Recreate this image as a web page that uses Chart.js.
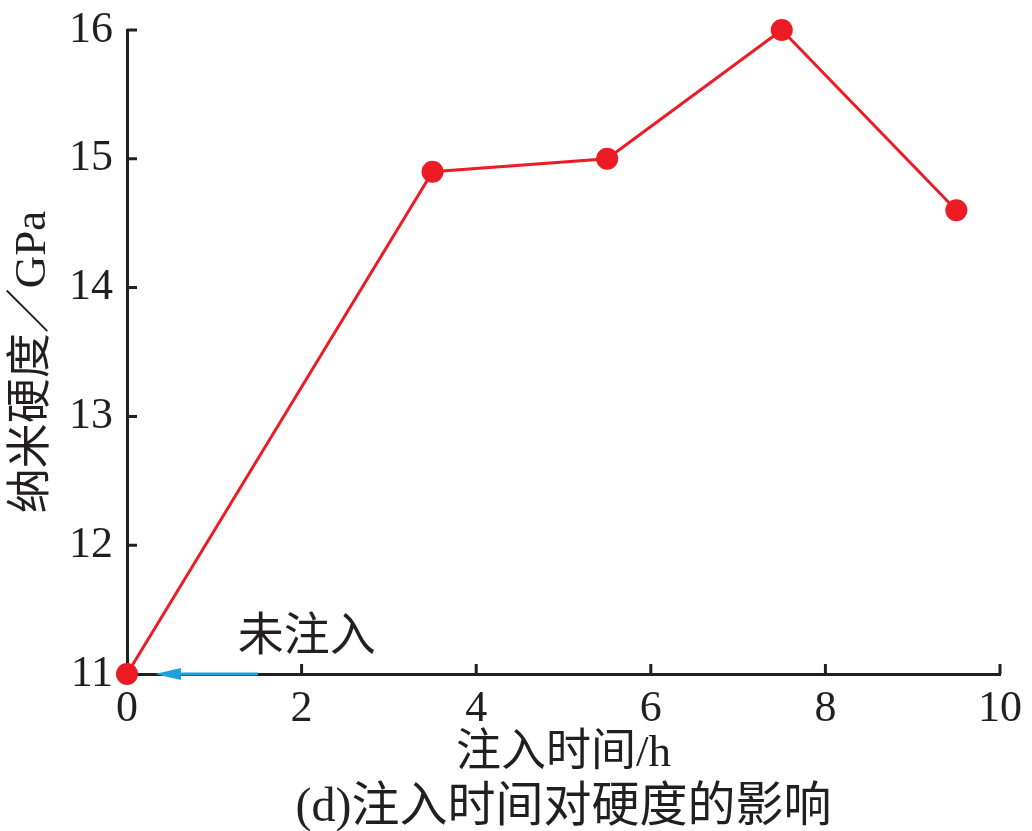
<!DOCTYPE html>
<html>
<head>
<meta charset="utf-8">
<script src="https://cdn.jsdelivr.net/npm/chart.js@4"></script>
<style>
  html, body { margin: 0; padding: 0; background: #fff; }
  #wrap { width: 1032px; height: 831px; }
</style>
</head>
<body>
<div id="wrap"><canvas id="hardnessChart" width="1032" height="831"></canvas></div>
<script>
// 注入时间 (h) 与 纳米硬度 (GPa)
const injectTime = [0, 3.5, 5.5, 7.5, 9.5];
const hardness = [11.0, 14.9, 15.0, 16.0, 14.6];
const xTicks = [0, 2, 4, 6, 8, 10];
const yTicks = [11, 12, 13, 14, 15, 16];

// 标注：未注入 (箭头指向 x=0 的点)
const noteText = "未注入";
const noteAt = [2.06, 11.28];
const arrowFrom = [1.5, 11];
const arrowTo = [0.32, 11];

const xTitle = "注入时间/h";
const yTitle = "纳米硬度／GPa";
const caption = "(d)注入时间对硬度的影响";

const FONT = '"Liberation Serif", "Noto Sans CJK SC", serif';

/* ===============================
   刻度(向内)、标注和标题
================================ */
const extrasPlugin = {
  id: "extras",
  afterDraw(chart) {
    const ctx = chart.ctx;
    const xs = chart.scales.x, ys = chart.scales.y;
    const area = chart.chartArea;
    ctx.save();

    // 向内刻度
    ctx.strokeStyle = "#231f20";
    ctx.lineWidth = 3;
    ctx.beginPath();
    xTicks.forEach(v => {
      if (v === 0) return;
      const px = xs.getPixelForValue(v);
      ctx.moveTo(px, area.bottom);
      ctx.lineTo(px, area.bottom - 10);
    });
    yTicks.forEach(v => {
      if (v === 11) return;
      const py = ys.getPixelForValue(v);
      ctx.moveTo(area.left, py);
      ctx.lineTo(area.left + 10, py);
    });
    ctx.stroke();

    // 箭头
    const ax1 = xs.getPixelForValue(arrowFrom[0]), ay1 = ys.getPixelForValue(arrowFrom[1]);
    const ax2 = xs.getPixelForValue(arrowTo[0]), ay2 = ys.getPixelForValue(arrowTo[1]);
    ctx.strokeStyle = "#1ea0dc";
    ctx.fillStyle = "#1ea0dc";
    ctx.lineWidth = 3;
    ctx.beginPath();
    ctx.moveTo(ax1, ay1);
    ctx.lineTo(ax2 + 20, ay2);
    ctx.stroke();
    ctx.beginPath();
    ctx.moveTo(ax2, ay2);
    ctx.lineTo(ax2 + 26, ay2 - 6);
    ctx.lineTo(ax2 + 26, ay2 + 6);
    ctx.closePath();
    ctx.fill();

    // 文字
    ctx.fillStyle = "#231f20";
    ctx.textAlign = "center";
    ctx.textBaseline = "middle";
    ctx.font = "46px " + FONT;
    ctx.fillText(noteText, xs.getPixelForValue(noteAt[0]), ys.getPixelForValue(noteAt[1]));

    const cx = (area.left + area.right) / 2;
    ctx.font = "45px " + FONT;
    ctx.fillText(xTitle, cx, 754);
    ctx.font = "48px " + FONT;
    ctx.fillText(caption, cx, 808);

    ctx.translate(33, 362);
    ctx.rotate(-Math.PI / 2);
    ctx.font = "45px " + FONT;
    ctx.fillText(yTitle, 0, 0);
    ctx.restore();
  }
};

new Chart(document.getElementById("hardnessChart"), {
  type: "line",
  data: {
    datasets: [{
      data: injectTime.map((t, i) => ({ x: t, y: hardness[i] })),
      borderColor: "#ed1c24",
      backgroundColor: "#ed1c24",
      borderWidth: 3,
      pointRadius: 11,
      pointHoverRadius: 11,
      pointBorderWidth: 0,
      tension: 0,
      clip: false
    }]
  },
  options: {
    responsive: false,
    animation: false,
    devicePixelRatio: 1,
    layout: { autoPadding: false, padding: { left: 0, right: 32, top: 30, bottom: 0 } },
    plugins: {
      legend: { display: false },
      tooltip: { enabled: false }
    },
    scales: {
      x: {
        type: "linear",
        min: 0, max: 10,
        afterFit: s => { s.height = 157; s.paddingLeft = 0; s.paddingRight = 0; },
        afterBuildTicks: s => { s.ticks = xTicks.map(v => ({ value: v })); },
        grid: { display: false, drawTicks: false },
        border: { display: true, color: "#231f20", width: 3 },
        ticks: { color: "#231f20", padding: 9, maxRotation: 0, font: { family: FONT, size: 44 } }
      },
      y: {
        type: "linear",
        min: 11, max: 16,
        afterFit: s => { s.width = 127; s.paddingTop = 0; s.paddingBottom = 0; },
        afterBuildTicks: s => { s.ticks = yTicks.map(v => ({ value: v })); },
        grid: { display: false, drawTicks: false },
        border: { display: true, color: "#231f20", width: 3 },
        ticks: { color: "#231f20", padding: 14, font: { family: FONT, size: 44 } }
      }
    }
  },
  plugins: [extrasPlugin]
});
</script>
</body>
</html>
